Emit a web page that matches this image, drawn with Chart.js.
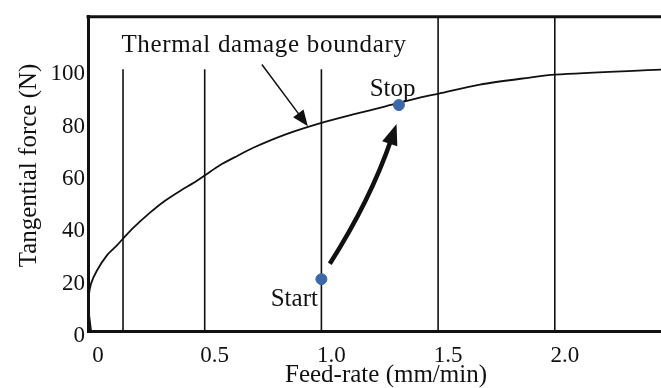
<!DOCTYPE html>
<html>
<head>
<meta charset="utf-8">
<script src="https://cdn.jsdelivr.net/npm/chart.js@4/dist/chart.umd.min.js"></script>
<style>
  body { margin: 0; background: #fff; }
  #wrap { width: 661px; height: 388px; }
</style>
</head>
<body>
<div id="wrap"><canvas id="chart"></canvas></div>
<script>
// boundary curve
const curveX = [0.013, 0.003, 0.003, 0.013, 0.039, 0.081, 0.124, 0.153, 0.196, 0.267, 0.324, 0.396, 0.453, 0.503, 0.568, 0.625, 0.708, 0.85, 1.0, 1.136, 1.279, 1.421, 1.5, 1.679, 1.893, 2.0, 2.455];
const curveY = [0, 8.0, 13.0, 18.1, 23.2, 28.9, 32.7, 35.6, 39.6, 45.3, 49.4, 53.6, 56.6, 59.6, 63.5, 66.2, 70.0, 75.2, 79.5, 82.7, 85.9, 89.1, 90.6, 94.1, 96.8, 97.9, 99.8];

// vertical reference lines
const markerX = [0.15, 0.5, 1.0, 1.5, 2.0];
const markerTop = [100, 100, 100, 120, 120];

// start / stop points
const pointLabels = ['Start', 'Stop'];
const pointX = [1.0, 1.332];
const pointY = [19.8, 86.3];

const xTicks = [0, 0.5, 1.0, 1.5, 2.0];
const xTickLabels = ['0', '0.5', '1.0', '1.5', '2.0'];
const yTicks = [0, 20, 40, 60, 80, 100];

const serif = '"Liberation Serif", "Times New Roman", serif';
const ink = '#111';

function arrowHead(ctx, fx, fy, tx, ty, len, half) {
    const a = Math.atan2(ty - fy, tx - fx);
    const bx = tx - len * Math.cos(a), by = ty - len * Math.sin(a);
    ctx.beginPath();
    ctx.moveTo(tx, ty);
    ctx.lineTo(bx - half * Math.sin(a), by + half * Math.cos(a));
    ctx.lineTo(bx + half * Math.sin(a), by - half * Math.cos(a));
    ctx.closePath();
    ctx.fill();
}

const annotate = {
    id: 'annotate',
    afterDraw(chart) {
        const { ctx, chartArea } = chart;
        const x = chart.scales.x, y = chart.scales.y;
        const px = v => x.getPixelForValue(v), py = v => y.getPixelForValue(v);
        ctx.save();
        ctx.strokeStyle = ink;
        ctx.fillStyle = ink;

        // top frame line
        ctx.lineWidth = 3;
        ctx.beginPath();
        ctx.moveTo(chartArea.left - 1.5, chartArea.top);
        ctx.lineTo(chartArea.right, chartArea.top);
        ctx.stroke();

        // axis titles
        ctx.font = '25px ' + serif;
        ctx.textAlign = 'center';
        ctx.textBaseline = 'alphabetic';
        ctx.fillText('Feed-rate (mm/min)', 386, 382);
        ctx.save();
        ctx.translate(36, 165.5);
        ctx.rotate(-Math.PI / 2);
        ctx.fillText('Tangential force (N)', 0, 0);
        ctx.restore();

        // boundary label and its arrow
        ctx.textAlign = 'left';
        ctx.save();
        ctx.letterSpacing = '0.7px';
        ctx.fillText('Thermal damage boundary', px(0.143), py(106.7));
        ctx.restore();
        let fx = px(0.745), fy = py(101.8), tx = px(0.942), ty = py(78.2);
        let a = Math.atan2(ty - fy, tx - fx);
        ctx.lineWidth = 1.5;
        ctx.beginPath();
        ctx.moveTo(fx, fy);
        ctx.lineTo(tx - 12 * Math.cos(a), ty - 12 * Math.sin(a));
        ctx.stroke();
        arrowHead(ctx, fx, fy, tx, ty, 16, 6.5);

        // start / stop labels
        ctx.textAlign = 'right';
        ctx.fillText(pointLabels[0], px(0.985), py(9.5));
        ctx.textAlign = 'left';
        ctx.fillText(pointLabels[1], px(1.207), py(89.8));

        // thick curved arrow start -> stop
        fx = px(1.036); fy = py(25.7);
        tx = px(1.322); ty = py(79.1);
        const cx = px(1.21), cy = py(50);
        a = Math.atan2(ty - cy, tx - cx);
        ctx.lineWidth = 4.5;
        ctx.beginPath();
        ctx.moveTo(fx, fy);
        ctx.quadraticCurveTo(cx, cy, tx - 16 * Math.cos(a), ty - 16 * Math.sin(a));
        ctx.stroke();
        arrowHead(ctx, cx, cy, tx, ty, 21, 8);
        ctx.restore();
    }
};

const datasets = [{
    // points first so they are drawn on top
    data: pointX.map((v, i) => ({ x: v, y: pointY[i] })),
    showLine: false,
    pointRadius: 5.5,
    pointBackgroundColor: '#3d68a8',
    pointBorderColor: '#3d68a8'
}, {
    data: curveX.map((v, i) => ({ x: v, y: curveY[i] })),
    showLine: true,
    borderColor: ink,
    borderWidth: 1.8,
    pointRadius: 0,
    tension: 0.3
}];
markerX.forEach((v, i) => {
    datasets.push({
        data: [{ x: v, y: 0 }, { x: v, y: markerTop[i] }],
        showLine: true,
        borderColor: ink,
        borderWidth: 1.6,
        pointRadius: 0
    });
});

new Chart(document.getElementById('chart'), {
    type: 'scatter',
    data: { datasets: datasets },
    options: {
        responsive: true,
        maintainAspectRatio: false,
        animation: false,
        layout: { autoPadding: false, padding: { top: 15, right: 0, bottom: 0, left: 0 } },
        plugins: { legend: { display: false }, tooltip: { enabled: false } },
        scales: {
            x: {
                type: 'linear',
                min: 0,
                max: 2.455,
                grid: { display: false, drawTicks: false },
                border: { display: true, color: ink, width: 3 },
                afterBuildTicks: s => { s.ticks = xTicks.map(v => ({ value: v })); },
                afterFit: s => { s.height = 57; s.paddingLeft = 0; s.paddingRight = 0; },
                ticks: {
                    color: ink,
                    font: { family: serif, size: 23 },
                    padding: 11,
                    labelOffset: 10,
                    maxRotation: 0,
                    autoSkip: false,
                    callback: (v, i) => xTickLabels[i]
                }
            },
            y: {
                min: 0,
                max: 120,
                grid: { display: false, drawTicks: false },
                border: { display: true, color: ink, width: 3 },
                afterBuildTicks: s => { s.ticks = yTicks.map(v => ({ value: v })); },
                afterFit: s => { s.width = 88; },
                ticks: {
                    color: ink,
                    font: { family: serif, size: 23 },
                    padding: 3,
                    labelOffset: 5,
                    autoSkip: false
                }
            }
        }
    },
    plugins: [annotate]
});
</script>
</body>
</html>
